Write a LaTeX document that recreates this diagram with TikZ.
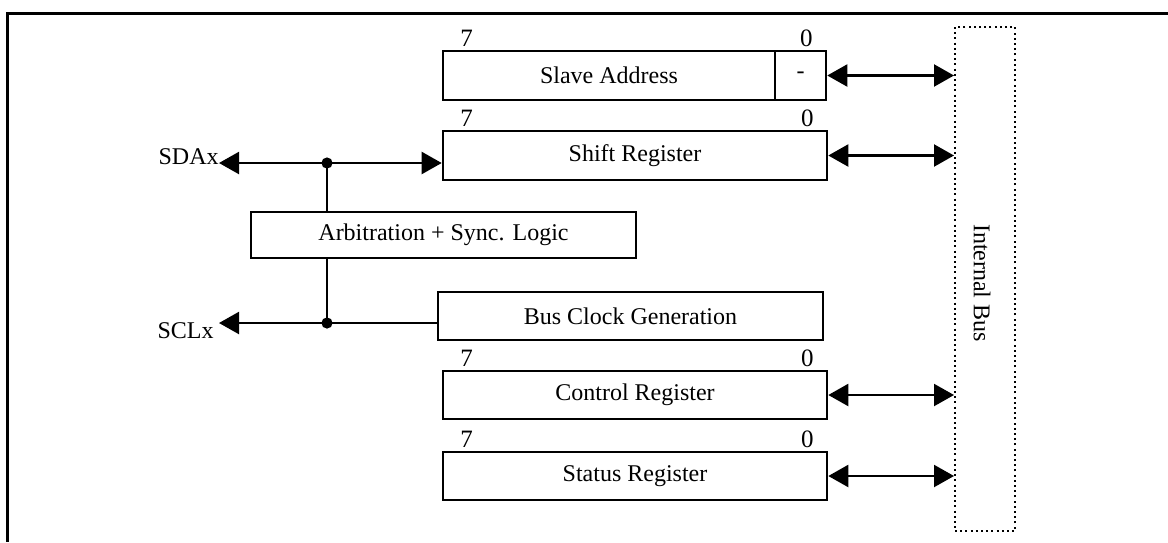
\documentclass[tikz,border=0pt]{standalone}
\usepackage{fontspec}
\setmainfont{Liberation Serif}
\usetikzlibrary{arrows.meta,positioning,calc}

\begin{document}
\begin{tikzpicture}[
    x=0.5pt, y=-0.5pt,
    reg/.style={draw, line width=1.3pt, minimum width=192pt, minimum height=24.5pt, inner sep=0pt, font=\fontsize{12}{14}\selectfont},
    bit/.style={inner sep=0pt, font=\fontsize{12.5}{14}\selectfont},
    sig/.style={inner sep=0pt, font=\fontsize{12}{14}\selectfont},
    busbox/.style={draw, line width=1pt, dash pattern=on 1pt off 1.6pt, minimum width=30pt, minimum height=252pt, inner sep=0pt},
    arr/.style={{Triangle[length=10pt,width=11pt]}-{Triangle[length=10pt,width=11pt]}, line width=1.1pt},
    outarr/.style={-{Triangle[length=10pt,width=11pt]}, line width=1.1pt},
    wire/.style={line width=1.1pt}
]
\useasboundingbox (0,0) rectangle (1168,542);
\draw[line width=1.5pt] (1168,13) -- (7,13) -- (7,542);

% registers
\node[reg, minimum width=166pt] (slave) at (609,75.5) {Slave Address};
\node[reg, minimum width=25.5pt] (slavelsb) at (800.5,75.5) {-};
\node[reg] (shift) at (635,155.5) {Shift Register};
\node[reg, minimum width=192.5pt, minimum height=23pt] (arb) at (443.5,235) {Arbitration + Sync. Logic};
\node[reg, minimum width=192.5pt, minimum height=24pt] (clk) at (630.5,316) {Bus Clock Generation};
\node[reg, minimum height=24pt] (ctrl) at (635,395) {Control Register};
\node[reg, minimum height=24pt] (stat) at (635,476) {Status Register};

% bit numbers
\node[bit] (slave7) at ($(slave.north west)+(25,-11)$) {7};
\node[bit] (slave0) at ($(slavelsb.north east)+(-21,-11)$) {0};
\node[bit] (shift7) at ($(shift.north west)+(25,-11)$) {7};
\node[bit] (shift0) at ($(shift.north east)+(-21,-11)$) {0};
\node[bit] (ctrl7) at ($(ctrl.north west)+(25,-11)$) {7};
\node[bit] (ctrl0) at ($(ctrl.north east)+(-21,-11)$) {0};
\node[bit] (stat7) at ($(stat.north west)+(25,-11)$) {7};
\node[bit] (stat0) at ($(stat.north east)+(-21,-11)$) {0};

% internal bus
\node[busbox] (bus) at (985,279) {};
\node[sig, rotate=-90] (buslbl) at (982,283) {Internal Bus};

\draw[arr] (slavelsb.east) -- (slavelsb.east -| bus.west);
\draw[arr] (shift.east) -- (shift.east -| bus.west);
\draw[arr] (ctrl.east) -- (ctrl.east -| bus.west);
\draw[arr] (stat.east) -- (stat.east -| bus.west);

% pins
\node[sig, anchor=east] (sda) at (219,157) {SDAx};
\node[sig, anchor=east] (scl) at (214,331) {SCLx};
\coordinate (sdaj) at (327,163);
\coordinate (sclj) at (327,323);

\draw[arr] (sda.east |- sdaj) -- (sdaj -| shift.west);
\draw[outarr] (clk.west |- sclj) -- (sclj -| sda.east);
\draw[wire] (sdaj) -- (sdaj |- arb.north);
\draw[wire] (arb.south -| sclj) -- (sclj);
\fill (sdaj) circle (2.8pt);
\fill (sclj) circle (2.8pt);
\end{tikzpicture}
\end{document}
